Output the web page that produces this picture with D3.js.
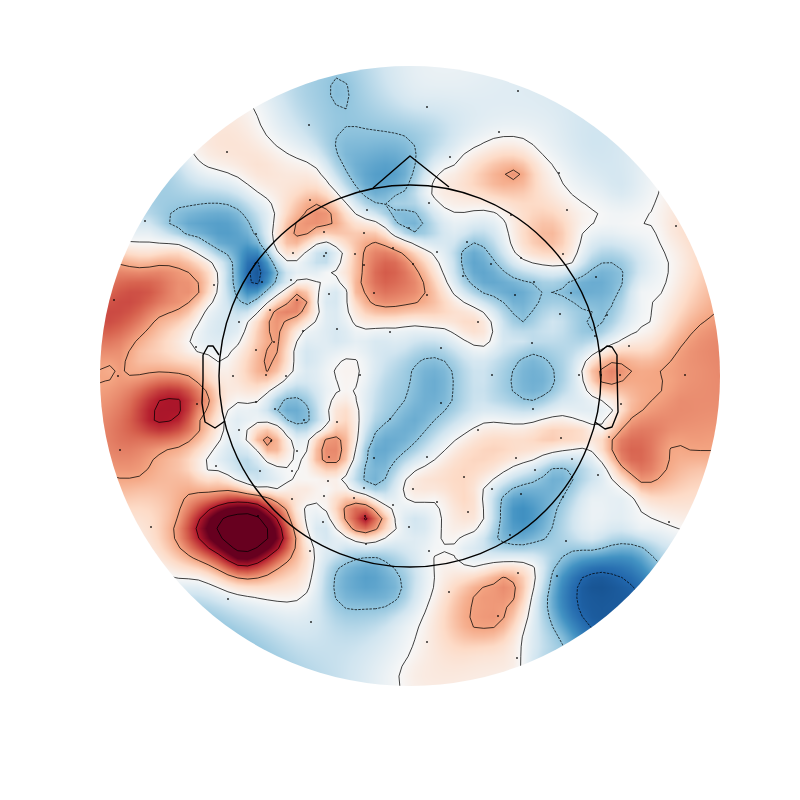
<!DOCTYPE html>
<html><head><meta charset="utf-8">
<script src="https://cdn.jsdelivr.net/npm/d3@7"></script>
<style>html,body{margin:0;padding:0;background:#fff}svg{display:block}</style>
</head><body><div id="chart"></div>
<script>
// All positions are in the digitising frame of the head plot; values are field amplitudes.
const xDomain = [100, 720], yDomain = [66, 686];
const headCenter = [410, 376], headRadius = 191, fieldRadius = 310;
const levels = [-0.8, -0.4, 0, 0.4, 0.8, 1.2];
const colorStops = ["#053061","#2166ac","#4393c3","#92c5de","#d1e5f0","#f7f7f7","#fddbc7","#f4a582","#d6604d","#b2182b","#67001f"];

const sensors = [[309,125],[227,152],[145,221],[310,200],[367,210],[256,234],[324,232],[364,233],[409,228],[293,253],[326,253],[324,256],[355,254],[393,248],[364,265],[262,282],[291,280],[214,285],[114,300],[297,300],[329,294],[374,293],[270,310],[239,322],[337,329],[303,331],[390,332],[196,347],[274,342],[256,350],[118,376],[233,376],[266,375],[286,376],[360,375],
[518,91],[427,107],[499,132],[450,157],[559,173],[429,203],[567,210],[676,226],[511,215],[467,242],[437,252],[413,264],[563,254],[521,258],[491,264],[463,276],[596,277],[534,282],[427,295],[571,293],[515,295],[560,314],[607,315],[478,322],[595,336],[441,348],[532,343],[629,346],[579,375],[492,375],[601,375],[620,375],[685,375],
[197,404],[256,402],[275,409],[304,420],[337,422],[390,419],[239,430],[271,441],[120,450],[297,451],[329,457],[374,458],[216,466],[260,471],[292,471],[328,481],[364,488],[324,496],[354,498],[292,499],[393,505],[258,516],[365,516],[151,527],[323,522],[409,527],[366,544],[310,551],[228,599],[311,622],
[441,403],[533,409],[621,404],[478,430],[561,438],[609,437],[427,457],[516,458],[572,459],[464,477],[535,470],[492,489],[413,489],[598,475],[521,494],[563,497],[437,502],[468,512],[510,535],[669,522],[566,541],[429,551],[518,573],[557,576],[449,592],[498,616],[427,642],[517,658]];

const noseLine = [[373,188],[410,156],[449,187]];
const leftEar = [[219,355],[213,346],[208,346],[203,355],[203,380],[202,403],[205,422],[215,428],[225,421]];
const rightEar = [[600,352],[607,346],[612,347],[617,355],[617,370],[618,412],[612,427],[605,429],[595,422]];

// traced iso-lines, one list per level
const level0 = [
 [[254,108],[263,130],[273,143],[290,155],[317,168],[337,193],[357,215],[383,225],[410,242],[427,250],[440,267],[453,293],[477,308],[492,323],[493,337],[483,347],[470,343],[443,328],[410,325],[390,327],[357,327],[350,317],[347,290],[328,273],[340,263],[343,253],[327,242],[310,248],[297,260],[285,260],[275,248],[273,227],[275,217],[257,192],[233,175],[207,167],[193,154]],
 [[130,242],[157,243],[183,245],[213,263],[218,280],[207,307],[190,340],[197,352],[218,362],[230,353],[247,323],[267,303],[290,287],[307,280],[322,282],[317,300],[303,330],[293,353],[295,365],[293,370],[257,402],[230,407],[223,422],[207,458],[207,470],[230,477],[257,488],[277,489],[292,478],[292,470],[307,453],[327,427],[328,410],[338,393],[338,383],[333,372],[347,357],[357,360],[360,378],[357,403],[358,437],[350,467],[345,475],[312,478],[330,487],[357,493],[380,502],[392,510],[395,520],[387,537],[367,543],[350,538],[330,517],[307,505],[302,510],[308,533],[314,560],[310,587],[298,600],[270,600],[230,592],[200,580],[176,578]],
 [[659,192],[652,210],[643,223],[657,232],[667,257],[665,287],[650,323],[627,337],[607,347],[587,360],[582,373],[583,380],[597,398],[613,410],[603,423],[602,427],[577,420],[553,417],[533,422],[483,423],[453,442],[427,465],[410,474],[403,485],[405,497],[410,502],[420,503],[437,502],[440,510],[440,533],[445,546],[455,543],[460,538],[482,525],[484,515],[483,490],[497,477],[533,460],[583,448],[607,468],[630,493],[650,517],[679,529]],
 [[400,685],[410,653],[417,633],[433,590],[433,560],[443,551],[453,553],[475,567],[503,562],[523,562],[535,568],[523,633],[522,665]],
 [[430,192],[432,183],[443,169],[453,166],[463,155],[480,145],[503,137],[520,138],[540,152],[558,173],[567,190],[583,203],[598,213],[595,223],[583,232],[577,253],[572,263],[550,266],[523,260],[513,250],[507,227],[500,215],[483,210],[443,207]],
 [[248,429],[262,423],[277,425],[287,435],[292,458],[287,467],[270,463],[257,450]]
];
const levelNeg1 = [
 [[336,78],[347,85],[348,97],[347,107],[338,107],[332,97],[331,87]],
 [[343,130],[360,128],[407,137],[415,147],[416,160],[412,178],[403,193],[385,205],[373,202],[360,192],[347,173],[338,157],[335,143]],
 [[390,212],[400,208],[410,210],[417,213],[423,223],[417,233],[410,232],[398,225],[392,218]],
 [[168,222],[172,213],[190,206],[213,203],[237,208],[253,230],[265,250],[278,273],[270,287],[248,305],[237,297],[232,280],[233,262],[217,250],[187,235]],
 [[277,409],[287,398],[297,397],[310,412],[308,423],[298,425],[287,420]],
 [[430,357],[443,360],[453,373],[453,387],[452,402],[430,425],[410,448],[390,470],[375,487],[362,477],[367,450],[390,420],[405,400],[411,380],[413,367]],
 [[535,353],[547,360],[555,377],[550,392],[530,401],[520,398],[512,390],[511,380],[513,370],[523,357]],
 [[460,260],[465,247],[473,243],[487,250],[498,265],[513,277],[533,283],[541,292],[523,322],[503,302],[483,293],[467,280]],
 [[552,292],[577,278],[597,265],[613,263],[623,270],[622,287],[607,317],[595,330],[588,332],[593,312],[567,298]],
 [[496,538],[500,510],[502,497],[520,485],[553,468],[567,469],[573,480],[563,497],[550,533],[543,540],[520,546],[507,544]],
 [[333,587],[338,568],[353,560],[373,557],[393,567],[402,580],[402,593],[390,605],[363,609],[343,607],[335,597]],
 [[563,644],[550,620],[547,600],[552,573],[560,560],[583,550],[617,544],[637,545],[650,553],[657,562]]
];
const levelNeg2 = [
 [[257,260],[262,270],[262,282],[253,284],[247,280],[250,268]],
 [[590,627],[578,610],[576,590],[583,577],[600,571],[617,575],[635,588]]
];
const levelPos1 = [
 [[121,264],[133,267],[157,265],[180,268],[198,282],[198,295],[183,308],[157,318],[150,327],[122,370],[173,373],[197,382],[208,393],[207,410],[200,430],[165,450],[153,460],[140,477],[117,478]],
 [[100,369],[117,371],[110,380],[100,383]],
 [[293,237],[303,217],[310,205],[320,205],[332,213],[334,223],[297,239]],
 [[362,257],[367,245],[380,243],[397,250],[410,260],[423,280],[425,293],[410,305],[390,308],[370,303],[365,293],[362,273]],
 [[265,362],[273,340],[280,310],[297,293],[307,303],[297,317],[280,322],[267,372]],
 [[506,175],[513,170],[521,176],[513,179]],
 [[713,315],[697,327],[680,347],[670,362],[657,372],[667,382],[660,393],[643,410],[612,440],[612,450],[618,463],[642,484],[650,483],[670,447],[680,445],[693,451],[711,451]],
 [[600,370],[612,362],[632,372],[623,380],[610,385],[602,383]],
 [[469,617],[480,588],[503,577],[515,583],[515,597],[503,620],[493,628],[473,627]],
 [[260,440],[267,434],[275,442],[270,450]],
 [[319,458],[323,440],[337,435],[342,460],[337,463],[323,462]],
 [[343,515],[357,502],[367,504],[383,519],[378,528],[365,533],[353,530]],
 [[174,528],[178,517],[217,492],[233,491],[260,495],[283,505],[296,540],[293,553],[280,567],[238,578],[213,567]]
];
const levelPos2 = [
 [[152,420],[153,410],[160,400],[168,397],[180,399],[183,410],[177,418],[160,424]],
 [[196,528],[203,515],[227,503],[247,502],[267,510],[282,530],[283,542],[273,553],[240,566],[223,557]]
];
const levelPos3 = [
 [[217,529],[223,518],[237,514],[257,516],[268,530],[268,538],[258,547],[240,552],[227,543]]
];

// amplitudes
const fieldSamples = [
 [105,320,.66],[150,292,.62],[180,290,.45],[105,350,.48],[105,290,.55],[130,300,.66],[140,355,.3],[120,371,.43],[120,361,.44],[110,371,.37],[130,371,.37],[167,410,.82],[160,410,.82],[175,408,.82],[125,440,.55],[130,410,.58],[145,440,.55],[200,415,.4],[215,430,.15],[213,385,.2],[200,360,.15],
 [150,520,.18],[130,500,.25],[140,490,.3],[220,480,.2],[190,480,.3],[295,490,.1],[305,560,.2],[250,590,.12],[242,532,1.5],
 [690,400,.47],[660,430,.5],[635,440,.56],[625,450,.56],[700,370,.46],[680,400,.47],[718,370,.48],[710,440,.42],[700,470,.28],[670,500,.18],[670,230,.1],[680,260,.07],[690,290,.2],[705,310,.35],[650,350,.2],[625,420,.35],[615,375,.5],[590,370,.25],[630,395,.32],
 [225,125,.12],[260,165,.15],[300,190,.18],[350,225,.22],[315,220,.47],[305,225,.45],[306,230,.46],[297,228,.44],[300,232,.43],[340,240,.2],[395,280,.58],[380,275,.6],[375,260,.52],[400,290,.52],[440,320,.15],[470,325,.2],[440,300,.25],[350,290,.2],[395,320,.15],[285,310,.46],[287,312,.5],[295,303,.5],[277,312,.47],[277,322,.45],[277,331,.44],[277,341,.43],[277,351,.405],[267,351,.405],[267,361,.43],
 [513,175,.46],[500,180,.38],[540,180,.15],[470,180,.2],[545,225,.3],[555,235,.32],[530,205,.2],[450,190,.1],
 [345,370,.03],[345,410,.18],[345,470,.1],[330,448,.47],[340,493,.15],[310,490,.1],[385,510,.12],[366,519,.84],[356,519,.62],[376,519,.55],[366,509,.55],[366,529,.55],[268,442,.45],
 [470,500,.2],[465,460,.2],[500,445,.22],[550,437,.28],[580,435,.25],[430,480,.15],[460,510,.15],
 [480,650,.18],[440,660,.12],[410,670,.05],[410,683,.05],[490,600,.43],[503,600,.44],[495,590,.44],[485,612,.43],[455,590,.22],[500,650,.15],
 [370,165,-.52],[390,180,-.55],[360,150,-.46],[395,155,-.5],[395,204,-.33],[405,204,-.33],[415,204,-.3],[340,92,-.45],[220,230,-.56],[200,220,-.52],[240,245,-.55],[255,273,-.85],[240,280,-.55],[407,220,-.45],[295,410,-.5],[430,385,-.5],[415,420,-.5],[395,440,-.5],[385,455,-.5],[375,470,-.46],[530,378,-.48],[490,270,-.5],[480,265,-.52],[510,290,-.52],[525,305,-.46],[520,300,-.5],[590,290,-.5],[600,280,-.5],[575,290,-.5],[565,292,-.44],[598,315,-.42],[610,280,-.46],[520,510,-.62],[530,500,-.55],[515,525,-.58],[545,490,-.48],[367,583,-.55],[350,580,-.5],[385,583,-.5],[605,600,-.85],[590,600,-.84],[615,610,-.84],[620,595,-.84],[630,605,-.84],
 [325,255,-.3],[325,265,-.22],[340,340,-.18],[320,340,-.1],[310,380,-.15],[240,420,-.12],[260,480,-.2],[300,360,-.15],[380,385,-.25],[375,340,-.15],[480,380,-.2],[400,345,-.15],[480,400,-.2],[560,400,-.2],[540,340,-.25],[490,360,-.2],[490,400,-.25],[475,415,-.15],[620,230,-.05],[600,240,-.15],[655,250,-.04],[655,290,-.03],[640,320,-.03],[637,290,-.08],[630,230,-.03],
 [415,100,-.15],[450,150,-.15],[430,130,-.3],[380,90,-.25],[550,130,-.1],[600,190,-.1],[620,190,-.17],[430,235,-.3],[460,240,-.2],[454,262,-.22],[500,335,-.15],[520,340,-.18],[555,320,-.2],
 [590,495,-.1],[590,540,-.18],[640,530,-.08],[415,520,-.2],[425,530,-.15],[410,540,-.12],[400,530,-.05],[445,549,-.02],[460,547,-.08],[430,548,-.05],[325,530,-.2],[315,520,-.1],[335,548,-.12],[330,540,-.15],[400,620,-.15],[320,620,-.2],[540,600,-.25],[530,640,-.1],[420,570,-.15],[415,590,-.2],
 [300,95,-.3],[500,100,-.12],[620,160,-.17],[590,145,-.2],[460,90,-.1],[640,175,-.1],[170,165,-.3],[150,190,-.35],[140,215,-.25],[150,230,-.12],[150,255,.18],[225,310,-.15],[240,330,-.1],
 [230,625,-.35],[270,640,-.3],[300,650,-.25],[350,670,-.2],[385,680,-.06],[390,665,-.06],[400,660,-.03],[530,665,-.15],[620,510,-.1],[372,400,-.2],[370,430,-.3]
];

const width = 800, height = 800, gridN = 64;
const x = d3.scaleLinear().domain(xDomain).range([100, 720]);
const y = d3.scaleLinear().domain(yDomain).range([66, 686]);
const color = d3.scaleLinear().domain(d3.range(11).map(i => -1 + i * 0.2)).range(colorStops).interpolate(d3.interpolateRgb).clamp(true);

// thin-plate surface through everything
const withLevel = (lines, v) => lines.flat().map(p => [p[0], p[1], v]);
const pts = [].concat(withLevel(level0, 0), withLevel(levelNeg1, -.4), withLevel(levelNeg2, -.8), withLevel(levelPos1, .4), withLevel(levelPos2, .8), withLevel(levelPos3, 1.2), fieldSamples);
const S = 310, cx = headCenter[0], cy = headCenter[1];
const P = pts.map(p => [(p[0] - cx) / S, (p[1] - cy) / S, p[2]]);
const kern = r2 => r2 > 1e-12 ? 0.5 * r2 * Math.log(r2) : 0;
const n = P.length, m = n + 3;
const A = [];
for (let i = 0; i < m; i++) A.push(new Float64Array(m + 1));
for (let i = 0; i < n; i++) {
  for (let j = 0; j < n; j++) {
    const dx = P[i][0] - P[j][0], dy = P[i][1] - P[j][1];
    A[i][j] = kern(dx * dx + dy * dy) + (i === j ? 2e-5 : 0);
  }
  A[i][n] = 1; A[i][n + 1] = P[i][0]; A[i][n + 2] = P[i][1];
  A[n][i] = 1; A[n + 1][i] = P[i][0]; A[n + 2][i] = P[i][1];
  A[i][m] = P[i][2];
}
for (let c = 0; c < m; c++) {
  let b = c;
  for (let r = c + 1; r < m; r++) if (Math.abs(A[r][c]) > Math.abs(A[b][c])) b = r;
  const t = A[c]; A[c] = A[b]; A[b] = t;
  for (let r = c + 1; r < m; r++) {
    const f = A[r][c] / A[c][c];
    if (f !== 0) for (let k = c; k <= m; k++) A[r][k] -= f * A[c][k];
  }
}
const w = new Float64Array(m);
for (let r = m - 1; r >= 0; r--) {
  let s = A[r][m];
  for (let k = r + 1; k < m; k++) s -= A[r][k] * w[k];
  w[r] = s / A[r][r];
}
function field(px, py) {
  const u = (px - cx) / S, v = (py - cy) / S;
  let s = w[n] + w[n + 1] * u + w[n + 2] * v;
  for (let i = 0; i < n; i++) {
    const dx = u - P[i][0], dy = v - P[i][1];
    s += w[i] * kern(dx * dx + dy * dy);
  }
  return s;
}

const gx = i => xDomain[0] + i * (xDomain[1] - xDomain[0]) / (gridN - 1);
const gy = j => yDomain[0] + j * (yDomain[1] - yDomain[0]) / (gridN - 1);
const grid = new Float64Array(gridN * gridN);
for (let j = 0; j < gridN; j++) for (let i = 0; i < gridN; i++) grid[j * gridN + i] = field(gx(i), gy(j));

// bilinear image of the grid
const size = 620;
const canvas = document.createElement("canvas");
canvas.width = size; canvas.height = size;
const ctx = canvas.getContext("2d");
const img = ctx.createImageData(size, size);
for (let py = 0; py < size; py++) for (let px = 0; px < size; px++) {
  const fi = (px + .5) / size * (gridN - 1), fj = (py + .5) / size * (gridN - 1);
  const i = Math.min(gridN - 2, Math.floor(fi)), j = Math.min(gridN - 2, Math.floor(fj));
  const a = fi - i, b = fj - j;
  const val = grid[j * gridN + i] * (1 - a) * (1 - b) + grid[j * gridN + i + 1] * a * (1 - b) + grid[(j + 1) * gridN + i] * (1 - a) * b + grid[(j + 1) * gridN + i + 1] * a * b;
  const c = d3.rgb(color(val));
  const o = (py * size + px) * 4;
  img.data[o] = c.r; img.data[o + 1] = c.g; img.data[o + 2] = c.b; img.data[o + 3] = 255;
}
ctx.putImageData(img, 0, 0);

const svg = d3.select("#chart").append("svg").attr("width", width).attr("height", height);
svg.append("clipPath").attr("id", "fieldClip").append("circle")
  .attr("cx", x(cx)).attr("cy", y(cy)).attr("r", x(cx + fieldRadius) - x(cx));
const plot = svg.append("g").attr("clip-path", "url(#fieldClip)");
plot.append("image").attr("x", x(xDomain[0])).attr("y", y(yDomain[0])).attr("width", size).attr("height", size)
  .attr("href", canvas.toDataURL());

const toSvg = d3.geoTransform({ point(px, py) {
  this.stream.point(x(xDomain[0] + (px - .5) * (xDomain[1] - xDomain[0]) / (gridN - 1)),
                    y(yDomain[0] + (py - .5) * (yDomain[1] - yDomain[0]) / (gridN - 1)));
}});
const path = d3.geoPath(toSvg);
const contours = d3.contours().size([gridN, gridN]).smooth(true).thresholds(levels)(Array.from(grid));
plot.append("g").selectAll("path").data(contours).join("path")
  .attr("d", path).attr("fill", "none").attr("stroke", "#000").attr("stroke-width", .75)
  .attr("stroke-dasharray", d => d.value < 0 ? "2.5 1.2" : null);

plot.append("g").selectAll("circle").data(sensors).join("circle")
  .attr("cx", d => x(d[0])).attr("cy", d => y(d[1])).attr("r", 1).attr("fill", "#000").attr("fill-opacity", .8);

const line = d3.line().x(d => x(d[0])).y(d => y(d[1]));
const head = svg.append("g").attr("fill", "none").attr("stroke", "#000").attr("stroke-width", 1.4).attr("stroke-linejoin", "round");
head.append("circle").attr("cx", x(cx)).attr("cy", y(cy)).attr("r", x(cx + headRadius) - x(cx));
[noseLine, leftEar, rightEar].forEach(l => head.append("path").attr("d", line(l)));
</script></body></html>
